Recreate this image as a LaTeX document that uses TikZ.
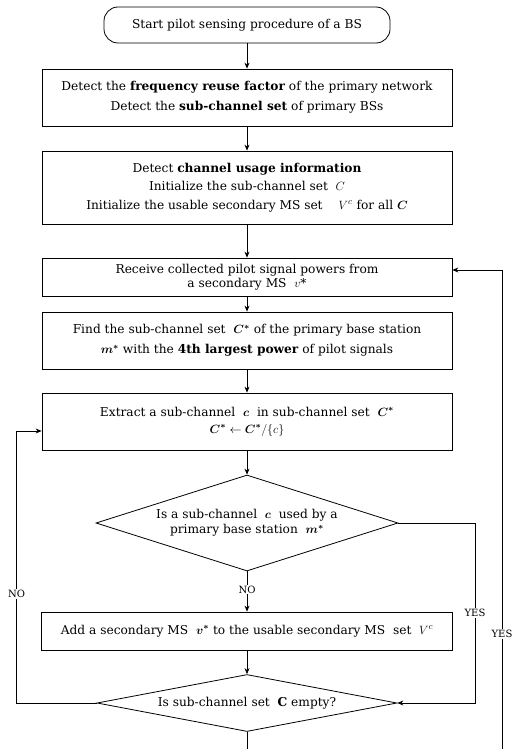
\documentclass[tikz,border=0pt]{standalone}
\usepackage{amsmath,bm}
\usepackage{fontspec}
\setmainfont{DejaVu Serif}
\usetikzlibrary{shapes.geometric,arrows.meta,calc}
\newcommand{\fs}[1]{\fontsize{12.2}{#1}\selectfont}
\begin{document}
\begin{tikzpicture}[x=1pt,y=-1pt,
  font=\fs{20},
  pbox/.style={draw, line width=0.8pt, minimum width=410pt, align=center, inner sep=0pt},
  pdia/.style={draw, line width=0.8pt, diamond, inner sep=0pt},
  arr/.style={line width=0.7pt, -{Stealth[length=6pt,width=5pt]}},
  conn/.style={line width=0.7pt},
  lbl/.style={fill=white, inner sep=1pt, font=\fontsize{10}{11}\selectfont}]
\useasboundingbox (0,0) rectangle (527,749);
\node[draw, line width=0.8pt, rounded corners=14pt, minimum width=286pt, minimum height=36pt] (start) at (247,25) {Start pilot sensing procedure of a BS};
\node[pbox, minimum height=57pt] (b1) at (247,97.5) {Detect the \textbf{frequency reuse factor} of the primary network\\Detect the \textbf{sub-channel set} of primary BSs};
\node[pbox, minimum height=73pt, font=\fs{18.5}] (b2) at (247,187.5) {Detect \textbf{channel usage information}\\Initialize the sub-channel set \ $C$\\Initialize the usable secondary MS set \quad $V^c$ for all $\bm{C}$};
\node[pbox, minimum height=38pt, font=\fs{14}] (b3) at (247,277) {Receive collected pilot signal powers from\\a secondary MS \ $v$*};
\node[pbox, minimum height=57pt] (b4) at (247,340.5) {Find the sub-channel set \ $\bm{C^*}$ of the primary base station\\$\bm{m^*}$ with the \textbf{4th largest power} of pilot signals};
\node[pbox, minimum height=57pt, font=\fs{17}] (b5) at (247,421.5) {Extract a sub-channel \ $\bm{c}$ \ in sub-channel set \ $\bm{C^*}$\\$\bm{C^*}\leftarrow\bm{C^*}/\{c\}$};
\node[pdia, minimum width=302pt, minimum height=96pt] (d1) at (247,523) {};
\node[align=center, font=\fs{15}] at (d1) {Is a sub-channel \ $\bm{c}$ \ used by a\\primary base station \ $\bm{m^*}$};
\node[pbox, minimum height=38pt, minimum width=411pt] (b6) at (247,631) {Add a secondary MS \ $\bm{v^*}$ to the usable secondary MS \ set \ $V^c$};
\node[pdia, minimum width=300pt, minimum height=57pt] (d2) at (247,703) {};
\node at (d2) {Is sub-channel set \ $\mathbf{C}$ empty?};
\coordinate (ry) at (475,703);
\coordinate (bend) at (247,749);
\coordinate (rbend) at (502,749);
\draw[arr] (start) -- (b1);
\draw[arr] (b1) -- (b2);
\draw[arr] (b2) -- (b3);
\draw[arr] (b3) -- (b4);
\draw[arr] (b4) -- (b5);
\draw[arr] (b5) -- (d1);
\draw[arr] (d1) -- node[lbl, pos=0.45]{NO} (b6);
\draw[arr] (b6) -- (d2);
\draw[arr] (d2.west) -- ++(-80,0) |- node[lbl, pos=0.2]{NO} ([yshift=-9.5pt]b5.west);
\draw[arr] (d1.east) -| node[lbl, pos=0.75]{YES} (ry) -- (d2.east);
\draw[conn] (d2.south) -- (bend);
\draw[arr] (rbend) |- node[lbl, pos=0.12]{YES} ([yshift=7pt]b3.east);
\end{tikzpicture}
\end{document}
